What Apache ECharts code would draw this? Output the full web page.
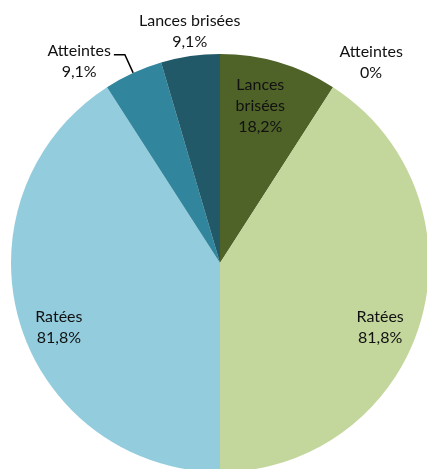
<!DOCTYPE html>
<html>
<head>
<meta charset="utf-8">
<script src="https://cdn.jsdelivr.net/npm/echarts@6/dist/echarts.min.js"></script>
<style>
  html, body { margin: 0; padding: 0; background: #fff; }
  #chart { width: 427px; height: 469px; }
</style>
</head>
<body>
<div id="chart"></div>
<script>
// right half (green), clockwise from the top
const rightNames = ['Lances brisées', 'Atteintes', 'Ratées']
const rightValues = [2, 0, 9]
const rightColors = ['#4f6228', '#76923c', '#c3d69b']

// left half (blue), clockwise from the bottom
const leftNames = ['Ratées', 'Atteintes', 'Lances brisées']
const leftValues = [9, 1, 1]
const leftColors = ['#93cddd', '#31859c', '#215968']

const FONT = 'Lato'

function pct(p) {
  let s = p.toFixed(1).replace('.', ',')
  if (s.endsWith(',0')) s = s.slice(0, -2)
  return s + '%'
}

function fmt(params) {
  let name = params.name
  if (params.seriesIndex === 0 && params.dataIndex === 0) name = name.replace(' ', '\n')
  return name.split('\n').concat(pct(params.percent)).map(t => '{a|' + t + '}').join('\n')
}

const baseLabel = {
  formatter: fmt,
  color: '#111',
  fontFamily: FONT,
  fontSize: 16,
  rich: {
    a: { align: 'center', fontFamily: FONT, fontSize: 16, lineHeight: 21, color: '#111' }
  }
}

// label placement per slice (Excel "best fit" look)
const rightLabels = [
  { position: 'inside', offset: [10, -54] },
  { position: 'inside', offset: [93, -110] },
  { position: 'inside', offset: [57, 34] }
]
const leftLabels = [
  { position: 'inside', offset: [-58, 34] },
  { position: 'outside', distanceToLabelLine: 3, padding: [14, 0, 0, 0] },
  { position: 'inside', offset: [-15, -125] }
]

function buildData(names, values, colors, labels, lines) {
  return names.map((n, i) => ({
    name: n,
    value: values[i],
    itemStyle: { color: colors[i] },
    label: labels[i],
    labelLine: lines[i]
  }))
}

const chart = echarts.init(document.getElementById('chart'))
chart.setOption({
  animation: false,
  series: [{
    type: 'pie',
    center: [220, 263],
    radius: 209,
    startAngle: 90,
    endAngle: -90,
    clockwise: true,
    percentPrecision: 1,
    avoidLabelOverlap: false,
    label: baseLabel,
    labelLine: { show: false },
    itemStyle: { borderWidth: 0 },
    emphasis: { disabled: true },
    data: buildData(rightNames, rightValues, rightColors, rightLabels, [{}, {}, {}])
  }, {
    type: 'pie',
    center: [220, 263],
    radius: 209,
    startAngle: -90,
    endAngle: -270,
    clockwise: true,
    percentPrecision: 1,
    avoidLabelOverlap: false,
    label: baseLabel,
    labelLine: { show: false },
    itemStyle: { borderWidth: 0 },
    emphasis: { disabled: true },
    data: buildData(leftNames, leftValues, leftColors, leftLabels, [
      {},
      { show: true, length: 20, length2: 11, lineStyle: { color: '#000', width: 1.5 } },
      {}
    ])
  }]
})
</script>
</body>
</html>
